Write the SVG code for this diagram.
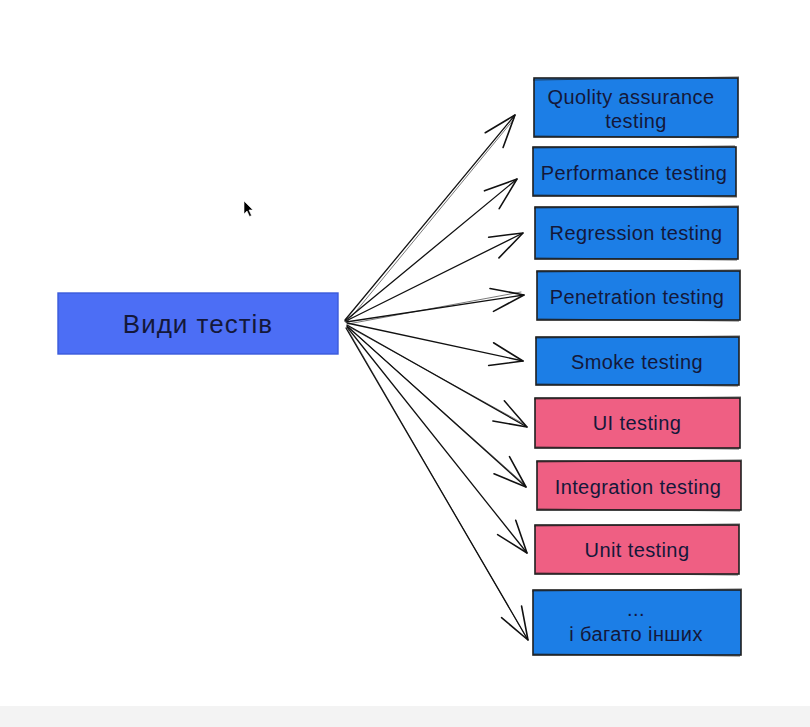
<svg xmlns="http://www.w3.org/2000/svg" width="810" height="727" viewBox="0 0 810 727">
<defs>
<marker id="ah" markerUnits="userSpaceOnUse" markerWidth="40" markerHeight="40" viewBox="-34 -16 38 32" refX="0" refY="0" orient="auto" overflow="visible">
<path d="M-31,-11 L0,0 L-31,11" fill="none" stroke="#111" stroke-width="1.5" stroke-linecap="round" stroke-linejoin="round"/>
</marker>
<style>
.blue{fill:#1c7ee6;stroke:#1e1e1e;stroke-width:1.6}
.pink{fill:#ef5f83;stroke:#1e1e1e;stroke-width:1.6}
.main{fill:#4c6ef5;stroke:#3b5bdb;stroke-width:1.4}
.sk{fill:none;stroke:#1e1e1e;stroke-width:1;opacity:0.7}
.t{font-family:"Liberation Sans","Noto Sans",sans-serif;font-size:20px;letter-spacing:0.4px;fill:#14183a;text-anchor:middle;dominant-baseline:central}
.c{fill:none;stroke:#111;stroke-width:1.3;stroke-linecap:round}
.c2{fill:none;stroke:#111;stroke-width:0.8;stroke-linecap:round;opacity:0.7}
</style>
</defs>
<rect x="0" y="0" width="810" height="727" fill="#ffffff"/>
<rect x="0" y="706" width="810" height="21" fill="#f3f3f3"/>

<g id="connectors">
<path class="c" d="M345,320 L515,115" marker-end="url(#ah)"/>
<path class="c" d="M345,321 L517,179" marker-end="url(#ah)"/>
<path class="c" d="M346,321 L523,233" marker-end="url(#ah)"/>
<path class="c" d="M346,322 L524,295" marker-end="url(#ah)"/>
<path class="c" d="M347,323 L523,361" marker-end="url(#ah)"/>
<path class="c" d="M347,325 L527,427" marker-end="url(#ah)"/>
<path class="c" d="M347,326 L526,487" marker-end="url(#ah)"/>
<path class="c" d="M347,327 L527,553" marker-end="url(#ah)"/>
<path class="c" d="M346,328 L528,640" marker-end="url(#ah)"/>
<path class="c2" d="M348,321 L514,119 M348,324 L521,292 M349,327 L524,424 M349,328 L524,484 M348,330 L526,637"/>
</g>

<g id="main">
<rect class="main" x="58" y="293" width="280" height="61"/>
<text class="t" x="198" y="324" style="font-size:26px;letter-spacing:1px">Види тестів</text>
</g>

<g id="qa">
<rect class="blue" x="534" y="78" width="204" height="59"/>
<path class="sk" d="M533,80 L739,77 M535,136 L737,138"/>
<text class="t" x="631" y="97">Quolity assurance</text>
<text class="t" x="636" y="121">testing</text>
</g>
<g id="performance">
<rect class="blue" x="533" y="147" width="203" height="49"/>
<path class="sk" d="M532,148 L735,146 M534,195 L737,197"/>
<text class="t" x="634" y="173">Performance testing</text>
</g>
<g id="regression">
<rect class="blue" x="535" y="207" width="203" height="52"/>
<path class="sk" d="M534,208 L739,206 M536,258 L737,260"/>
<text class="t" x="636" y="233">Regression testing</text>
</g>
<g id="penetration">
<rect class="blue" x="537" y="271" width="203" height="49"/>
<path class="sk" d="M536,272 L741,270 M538,319 L739,321"/>
<text class="t" x="637" y="297">Penetration testing</text>
</g>
<g id="smoke">
<rect class="blue" x="536" y="337" width="203" height="48"/>
<path class="sk" d="M535,338 L740,336 M537,384 L738,386"/>
<text class="t" x="637" y="362">Smoke testing</text>
</g>
<g id="ui">
<rect class="pink" x="535" y="398" width="205" height="50"/>
<path class="sk" d="M534,399 L741,397 M536,447 L739,449"/>
<text class="t" x="637" y="423">UI testing</text>
</g>
<g id="integration">
<rect class="pink" x="537" y="461" width="204" height="49"/>
<path class="sk" d="M536,462 L742,460 M538,509 L740,511"/>
<text class="t" x="638" y="487">Integration testing</text>
</g>
<g id="unit">
<rect class="pink" x="535" y="525" width="204" height="49"/>
<path class="sk" d="M534,526 L740,524 M536,573 L738,575"/>
<text class="t" x="637" y="550">Unit testing</text>
</g>
<g id="others">
<rect class="blue" x="533" y="590" width="208" height="65"/>
<path class="sk" d="M532,591 L742,589 M534,654 L740,656"/>
<text class="t" x="636" y="609">...</text>
<text class="t" x="636" y="634">і багато інших</text>
</g>

<path d="M244,201 L244,214 L247,211 L249.5,216.5 L251.5,215.5 L249,210 L253,210 Z" fill="#000" stroke="#fff" stroke-width="0.6"/>
</svg>
